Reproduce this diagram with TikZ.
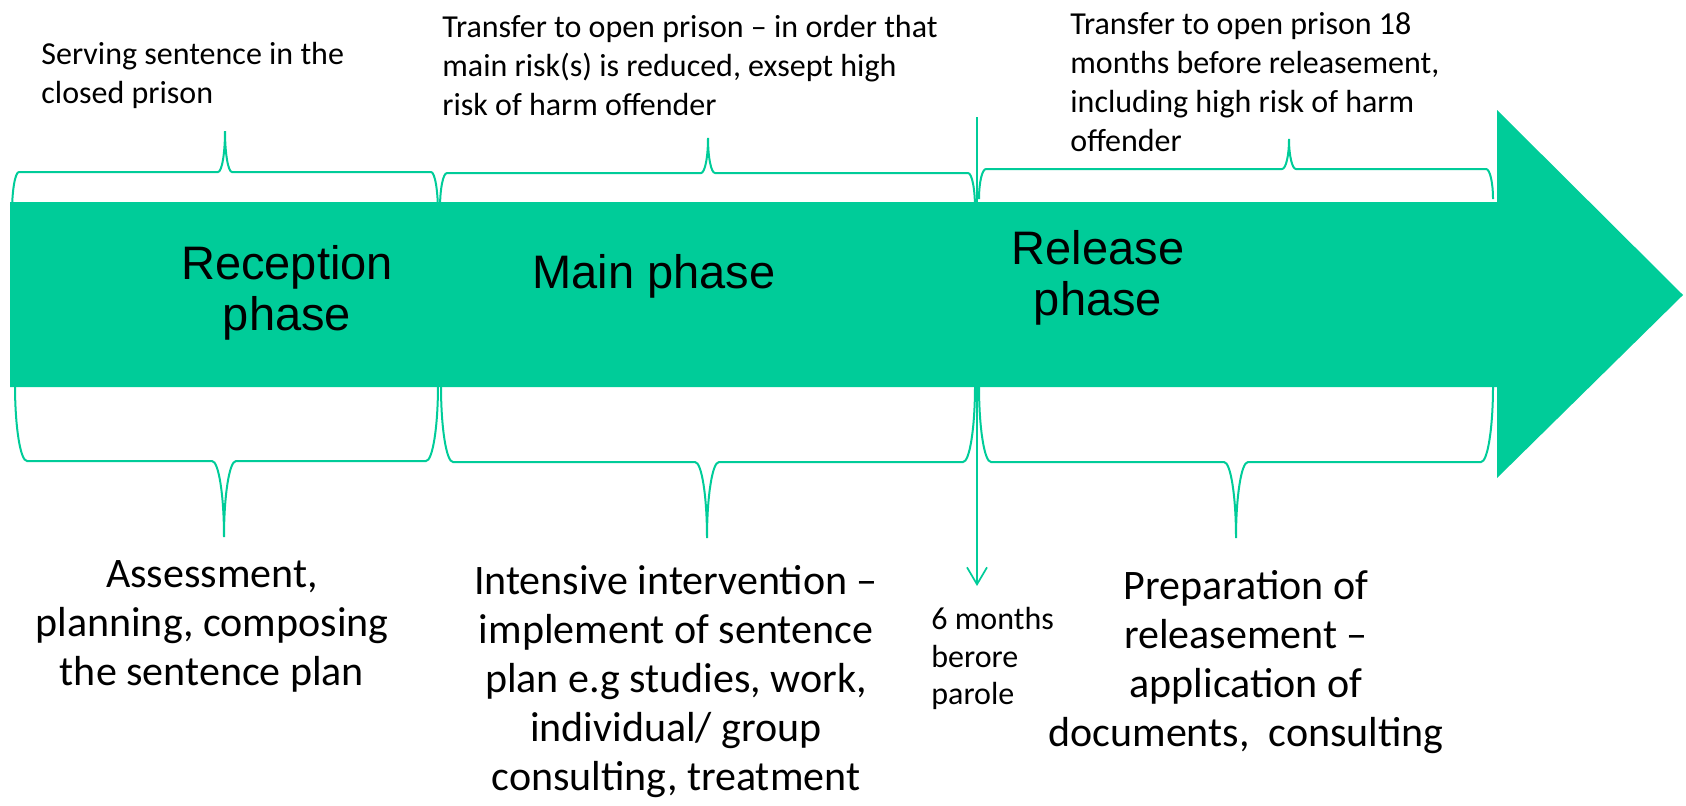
\documentclass[tikz,border=0pt]{standalone}
\usepackage{fontspec}
\setmainfont{Carlito}
\newfontfamily\arialf{Liberation Sans}
\usetikzlibrary{arrows.meta}
\definecolor{grn}{RGB}{0,204,153}
\tikzset{
  bracestyle/.style={draw=grn, line width=1pt},
  smalltext/.style={font=\fontsize{16}{19.5}\selectfont, inner sep=0pt, anchor=north west, align=left},
  bigtext/.style={font=\fontsize{21}{24.5}\selectfont, inner sep=0pt, anchor=north, align=center},
  phasetext/.style={font=\arialf\fontsize{23.5}{25.5}\selectfont, inner sep=0pt, anchor=north, align=center},
  markline/.style={draw=grn, line width=0.85pt, -{Straight Barb[length=8.5pt,width=10pt]}},
}
\newcommand\mybrace[6]{%
  \pgfmathsetmacro\bya{#4+(#5)}%
  \pgfmathsetmacro\byt{#4+2*(#5)}%
  \pgfmathsetmacro\byk{#4+0.5523*(#5)}%
  \pgfmathsetmacro\byq{#4+1.4477*(#5)}%
  \pgfmathsetmacro\bxa{#1+#6}%
  \pgfmathsetmacro\bxak{#1+0.4477*#6}%
  \pgfmathsetmacro\bxl{#3-#6}%
  \pgfmathsetmacro\bxlk{#3-0.4477*#6}%
  \pgfmathsetmacro\bxr{#3+#6}%
  \pgfmathsetmacro\bxrk{#3+0.4477*#6}%
  \pgfmathsetmacro\bxb{#2-#6}%
  \pgfmathsetmacro\bxbk{#2-0.4477*#6}%
  \draw[bracestyle] (#1,#4) .. controls (#1,\byk) and (\bxak,\bya) .. (\bxa,\bya)
    -- (\bxl,\bya) .. controls (\bxlk,\bya) and (#3,\byq) .. (#3,\byt)
    .. controls (#3,\byq) and (\bxrk,\bya) .. (\bxr,\bya)
    -- (\bxb,\bya) .. controls (\bxbk,\bya) and (#2,\byk) .. (#2,#4);
}
\begin{document}
\begin{tikzpicture}[x=0.5pt,y=-0.5pt]
\fill[white] (0,0) rectangle (1686,805);
\useasboundingbox (0,0) rectangle (1686,805);
% top braces
\mybrace{12}{438}{225}{213}{-41}{7}
\mybrace{440}{975}{708}{208}{-35}{7}
\mybrace{979}{1493}{1289}{199}{-30}{7}
% bottom braces
\mybrace{15}{438}{224}{385}{76}{12}
\mybrace{441}{975}{707}{386}{76}{12}
\mybrace{979}{1493}{1236}{386}{76}{12}
% marker line
\coordinate (vtop) at (977,117);
\coordinate (vbot) at (977,586);
\draw[markline] (vtop) -- (vbot);
% big arrow
\fill[grn] (10,202) -- (1497,202) -- (1497,110) -- (1683,295) -- (1497,478) -- (1497,387) -- (10,387) -- cycle;
% phase labels
\node[phasetext] (p1) at (287,243) {\strut Reception\\phase};
\node[phasetext] (p2) at (654,252.5) {\strut Main phase};
\node[phasetext] (p3) at (1098,228.5) {\strut Release\\phase};
% top texts
\node[smalltext] (t1) at (41,36.7) {\strut Serving sentence in the\\closed prison};
\node[smalltext] (t2) at (442,9.7) {\strut Transfer to open prison – in order that\\main risk(s) is reduced, exsept high\\risk of harm offender};
\node[smalltext] (t3) at (1070,6.5) {\strut Transfer to open prison 18\\months before releasement,\\including high risk of harm\\offender};
\node[smalltext, font=\fontsize{16}{18.75}\selectfont] (t4) at (931,603) {\strut 6 months\\berore\\parole};
% bottom texts
\node[bigtext] (b1) at (212,552.7) {\strut Assessment,\\planning, composing\\the sentence plan};
\node[bigtext] (b2) at (676,559.7) {\strut Intensive intervention –\\implement of sentence\\plan e.g studies, work,\\individual/ group\\consulting, treatment};
\node[bigtext] (b3) at (1246,564.7) {\strut Preparation of\\releasement –\\application of\\documents,\ \ consulting};
\end{tikzpicture}
\end{document}
